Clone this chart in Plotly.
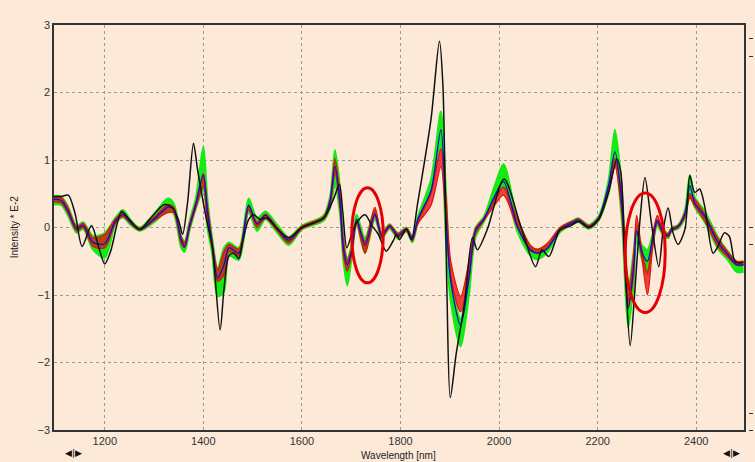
import plotly.graph_objects as go

# Wavelength samples (nm) shared by the sample-set envelopes and the mean spectrum
wl_set = [1097, 1112, 1125, 1143, 1156, 1176, 1200, 1222, 1237, 1252, 1271, 1304, 1328, 1340,
          1355, 1362, 1372, 1385, 1400, 1408, 1418, 1429, 1442, 1452, 1472, 1492, 1509, 1526,
          1550, 1573, 1600, 1644, 1657, 1667, 1677, 1684, 1692, 1701, 1711, 1728, 1748, 1762,
          1778, 1795, 1812, 1824, 1835, 1862, 1882, 1892, 1902, 1922, 1939, 1952, 1969, 1990,
          2009, 2037, 2064, 2077, 2097, 2124, 2151, 2161, 2182, 2202, 2222, 2235, 2249, 2256,
          2262, 2273, 2279, 2289, 2301, 2312, 2321, 2333, 2343, 2350, 2363, 2377, 2387, 2397,
          2417, 2444, 2464, 2482, 2496]

green_hi = [0.47, 0.46, 0.32, 0.03, 0.08, -0.12, -0.08, 0.15, 0.26, 0.12, 0.0, 0.24, 0.43, 0.36,
            -0.12, -0.20, 0.10, 0.45, 1.20, 0.45, -0.15, -0.60, -0.30, -0.22, -0.30, 0.43, 0.14, 0.24,
            0.04, -0.14, 0.03, 0.18, 0.46, 1.15, 0.62, -0.12, -0.45, -0.25, 0.19, -0.15, 0.26, -0.08,
            0.05, -0.08, 0.0, -0.13, 0.16, 0.72, 1.72, 0.60, -0.70, -1.35, -0.55, 0.0, 0.16, 0.60,
            0.94, 0.14, -0.27, -0.33, -0.27, 0.0, 0.11, 0.14, 0.04, 0.17, 0.70, 1.45, 0.60, -0.35,
            -0.90, -0.35, 0.02, -0.25, -0.33, -0.08, 0.12, -0.03, -0.08, 0.0, 0.04, 0.26, 0.78, 0.45,
            0.25, -0.14, -0.35, -0.50, -0.50]
green_lo = [0.34, 0.33, 0.18, -0.08, -0.02, -0.33, -0.45, 0.05, 0.15, 0.04, -0.05, 0.10, 0.25, 0.20,
            -0.30, -0.36, -0.05, 0.28, 0.55, 0.0, -0.40, -1.02, -0.95, -0.42, -0.48, 0.22, -0.05, 0.12,
            -0.08, -0.26, -0.03, 0.10, 0.28, 0.62, 0.20, -0.50, -0.86, -0.45, 0.04, -0.38, 0.12, -0.16,
            -0.02, -0.17, -0.06, -0.22, 0.06, 0.52, 1.20, -0.20, -1.10, -1.76, -1.00, -0.15, 0.08, 0.38,
            0.60, -0.06, -0.42, -0.47, -0.38, -0.07, 0.05, 0.08, -0.02, 0.10, 0.50, 0.95, 0.10, -0.90,
            -1.48, -0.85, -0.20, -0.45, -0.70, -0.25, 0.02, -0.12, -0.16, -0.06, -0.02, 0.14, 0.45, 0.30,
            0.08, -0.32, -0.48, -0.66, -0.66]
red_hi = [0.45, 0.44, 0.30, 0.01, 0.06, -0.15, -0.10, 0.13, 0.22, 0.10, -0.01, 0.18, 0.34, 0.30,
          -0.14, -0.22, 0.06, 0.38, 0.80, 0.35, -0.20, -0.62, -0.35, -0.25, -0.32, 0.32, 0.08, 0.20,
          0.0, -0.16, 0.02, 0.16, 0.42, 1.02, 0.50, -0.18, -0.48, -0.30, 0.12, -0.20, 0.30, -0.09,
          0.04, -0.09, -0.01, -0.14, 0.10, 0.52, 1.17, 0.50, -0.50, -1.02, -0.50, -0.02, 0.14, 0.42,
          0.60, 0.12, -0.27, -0.32, -0.24, 0.0, 0.10, 0.13, 0.03, 0.15, 0.60, 1.02, 0.50, -0.40,
          -1.00, -0.40, 0.18, -0.30, -0.65, -0.10, 0.18, -0.05, -0.09, -0.01, 0.03, 0.22, 0.50, 0.42,
          0.20, -0.16, -0.36, -0.50, -0.50]
red_lo = [0.38, 0.36, 0.22, -0.05, 0.0, -0.28, -0.30, 0.07, 0.16, 0.06, -0.04, 0.12, 0.22, 0.22,
          -0.24, -0.30, -0.02, 0.30, 0.60, 0.10, -0.32, -0.80, -0.70, -0.36, -0.42, 0.26, 0.0, 0.14,
          -0.05, -0.23, -0.02, 0.12, 0.32, 0.80, 0.30, -0.40, -0.65, -0.40, 0.06, -0.38, 0.16, -0.15,
          0.0, -0.15, -0.05, -0.20, 0.05, 0.33, 0.90, 0.10, -0.75, -1.25, -0.75, -0.10, 0.10, 0.32,
          0.48, 0.0, -0.35, -0.38, -0.32, -0.05, 0.06, 0.09, -0.01, 0.11, 0.52, 0.90, 0.20, -0.75,
          -1.18, -0.70, -0.02, -0.42, -1.00, -0.28, 0.06, -0.10, -0.14, -0.05, 0.0, 0.16, 0.44, 0.32,
          0.10, -0.28, -0.44, -0.56, -0.56]
blue_mean = [0.42, 0.40, 0.25, -0.02, 0.03, -0.22, -0.24, 0.10, 0.19, 0.08, -0.03, 0.15, 0.30, 0.27,
             -0.18, -0.28, 0.02, 0.35, 0.78, 0.25, -0.25, -0.75, -0.55, -0.30, -0.38, 0.33, 0.05, 0.18,
             -0.02, -0.19, 0.0, 0.14, 0.38, 0.90, 0.40, -0.30, -0.55, -0.35, 0.12, -0.26, 0.20, -0.12,
             0.02, -0.12, -0.03, -0.17, 0.12, 0.55, 1.45, 0.20, -0.80, -1.45, -0.75, -0.05, 0.12, 0.45,
             0.68, 0.02, -0.33, -0.38, -0.32, -0.03, 0.08, 0.11, 0.01, 0.14, 0.62, 1.12, 0.35, -0.60,
             -1.20, -0.60, -0.05, -0.35, -0.50, -0.15, 0.10, -0.07, -0.12, -0.03, 0.01, 0.20, 0.62, 0.36,
             0.17, -0.22, -0.40, -0.55, -0.55]

# Reference spectrum (black)
wl_ref = [1097, 1112, 1126, 1140, 1154, 1173, 1188, 1200, 1212, 1234, 1244, 1271, 1291, 1321,
          1338, 1350, 1358, 1368, 1380, 1388, 1405, 1418, 1434, 1442, 1452, 1462, 1472, 1480,
          1492, 1502, 1515, 1529, 1550, 1573, 1600, 1644, 1664, 1676, 1683, 1691, 1701, 1711,
          1728, 1741, 1755, 1771, 1785, 1792, 1798, 1812, 1822, 1835, 1862, 1879, 1886, 1894,
          1901, 1913, 1930, 1946, 1956, 1976, 2010, 2044, 2074, 2087, 2101, 2124, 2144, 2161,
          2182, 2202, 2222, 2239, 2247, 2256, 2266, 2276, 2286, 2296, 2309, 2324, 2333, 2343,
          2353, 2363, 2377, 2387, 2397, 2407, 2417, 2434, 2444, 2457, 2467, 2477, 2482, 2496]
ref_spec = [0.46, 0.46, 0.48, 0.20, -0.28, 0.03, -0.30, -0.54, -0.35, 0.24, 0.17, -0.03, 0.12, 0.34,
            0.29, 0.10, -0.10, 0.37, 1.25, 0.87, 0.17, -0.28, -1.52, -0.90, -0.42, -0.38, -0.46, -0.20,
            0.12, 0.19, 0.12, 0.14, -0.02, -0.15, 0.0, 0.14, 0.42, 0.64, 0.22, -0.30, -0.10, 0.07,
            0.19, 0.04, -0.10, -0.35, -0.20, -0.10, -0.18, -0.02, -0.18, 0.37, 1.61, 2.76, 2.11, -0.88,
            -2.52, -1.87, -1.12, -0.15, -0.33, -0.03, 0.72, 0.02, -0.58, -0.33, -0.43, -0.03, 0.02, 0.09,
            0.0, 0.12, 0.52, 1.01, 0.82, -0.63, -1.75, -0.88, 0.12, 0.74, 0.07, -0.58, -0.03, 0.29,
            -0.08, -0.25, -0.03, 0.77, 0.52, 0.57, 0.32, -0.38, -0.28, -0.08, -0.13, -0.48, -0.52, -0.52]

x_ticks = [1200, 1400, 1600, 1800, 2000, 2200, 2400]
y_ticks = [-3, -2, -1, 0, 1, 2, 3]

BG = "#fce9d8"
GREEN = "rgb(20,235,20)"
RED = "rgb(235,10,10)"
BLUE = "rgb(10,10,230)"
SPL = dict(shape="spline", smoothing=0.8)

fig = go.Figure()
fig.add_trace(go.Scatter(x=wl_set, y=green_hi, mode="lines",
                         line=dict(color=GREEN, width=1.8, **SPL), hoverinfo="skip"))
fig.add_trace(go.Scatter(x=wl_set, y=green_lo, mode="lines", fill="tonexty", fillcolor=GREEN,
                         line=dict(color=GREEN, width=1.8, **SPL), hoverinfo="skip"))
fig.add_trace(go.Scatter(x=wl_set, y=red_hi, mode="lines",
                         line=dict(color=RED, width=1.2, **SPL), hoverinfo="skip"))
fig.add_trace(go.Scatter(x=wl_set, y=red_lo, mode="lines", fill="tonexty", fillcolor="rgba(235,10,10,0.75)",
                         line=dict(color=RED, width=1.2, **SPL), hoverinfo="skip"))
fig.add_trace(go.Scatter(x=wl_set, y=blue_mean, mode="lines",
                         line=dict(color=BLUE, width=1.3, **SPL), hoverinfo="skip"))
fig.add_trace(go.Scatter(x=wl_ref, y=ref_spec, mode="lines",
                         line=dict(color="#111111", width=1.5, **SPL), hoverinfo="skip"))
# secondary (right) axis carrier
fig.add_trace(go.Scatter(x=[], y=[], yaxis="y2", showlegend=False))

# highlighted regions
fig.add_shape(type="circle", xref="x", yref="y", x0=1701, x1=1765, y0=-0.82, y1=0.59,
              line=dict(color="rgb(228,0,0)", width=3), layer="above")
fig.add_shape(type="circle", xref="x", yref="y", x0=2256, x1=2337, y0=-1.26, y1=0.51,
              line=dict(color="rgb(228,0,0)", width=3), layer="above")

FONT = dict(family="Liberation Sans, Arial, sans-serif", size=11, color="#333333")
GRID = dict(showgrid=True, gridcolor="#9a9a9a", gridwidth=1, griddash="3px,3px")

fig.update_layout(
    width=755, height=462,
    margin=dict(l=54, r=3, t=25, b=32),
    paper_bgcolor=BG, plot_bgcolor=BG,
    showlegend=False,
    font=FONT,
    xaxis=dict(range=[1097, 2497], domain=[0, 0.9943], tickvals=x_ticks, ticks="",
               showline=True, linecolor="#333333", linewidth=1.5, mirror=True,
               zeroline=False, tickfont=FONT, **GRID),
    yaxis=dict(range=[-3, 3], tickvals=y_ticks, ticks="", showline=True,
               linecolor="#333333", linewidth=1.5, mirror=True, zeroline=False,
               tickfont=FONT, **GRID),
    yaxis2=dict(range=[-3, 3], overlaying="y", anchor="free", position=1.0, side="right",
                tickvals=[2.8, 2.54, 0.0, -0.25, -2.75, -3.0], ticks="outside", ticklen=4,
                tickcolor="#333333", showticklabels=False, showgrid=False, zeroline=False,
                showline=False),
    annotations=[
        dict(text="Wavelength [nm]", xref="paper", yref="paper", x=0.497, y=-0.062,
             xanchor="center", yanchor="middle", showarrow=False,
             font=dict(family="Liberation Sans, Arial, sans-serif", size=10, color="#222222")),
        dict(text="Intensity * E-2", xref="paper", yref="paper", x=-0.0573, y=0.501,
             xanchor="center", yanchor="middle", showarrow=False, textangle=-90,
             font=dict(family="Liberation Sans, Arial, sans-serif", size=10, color="#222222")),
        dict(text="◀|▶", xref="paper", yref="paper", x=0.0287, y=-0.073,
             xanchor="center", yanchor="bottom", showarrow=False,
             font=dict(family="DejaVu Sans", size=9, color="#111111")),
        dict(text="◀|▶", xref="paper", yref="paper", x=0.9756, y=-0.073,
             xanchor="center", yanchor="bottom", showarrow=False,
             font=dict(family="DejaVu Sans", size=9, color="#111111")),
    ],
)

fig.write_html("out.html")
